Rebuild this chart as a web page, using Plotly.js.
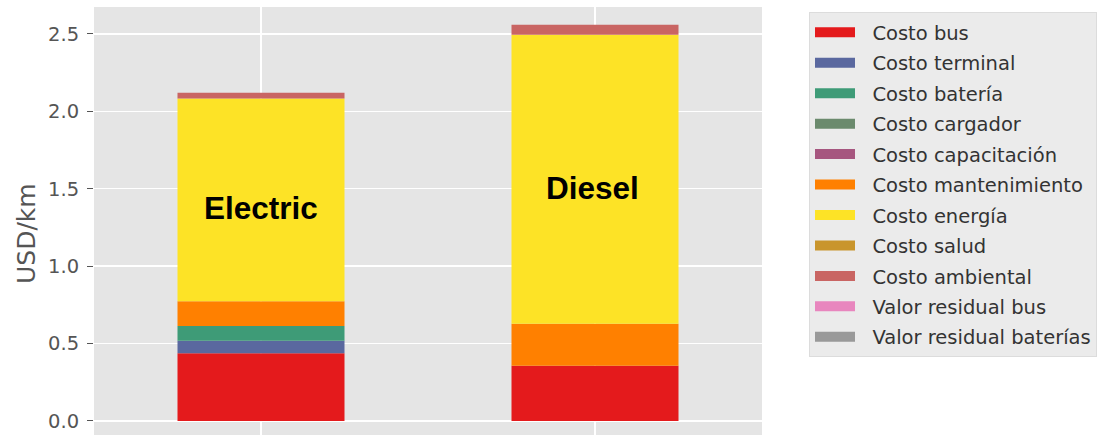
<!DOCTYPE html>
<html>
<head>
<meta charset="utf-8">
<script src="https://cdn.plot.ly/plotly-3.0.1.min.js"></script>
<style>html,body{margin:0;padding:0;background:#fff;}#chart{width:1097px;height:435px;}</style>
</head>
<body>
<div id="chart"></div>
<script>
const categories = ["Electric", "Diesel"];
const seriesNames = ["Costo bus", "Costo terminal", "Costo batería", "Costo cargador", "Costo capacitación",
  "Costo mantenimiento", "Costo energía", "Costo salud", "Costo ambiental", "Valor residual bus", "Valor residual baterías"];
const costoBus = [0.437, 0.357];
const costoTerminal = [0.081, 0];
const costoBateria = [0.095, 0];
const costoCargador = [0, 0];
const costoCapacitacion = [0, 0];
const costoMantenimiento = [0.160, 0.270];
const costoEnergia = [1.310, 1.867];
const costoSalud = [0, 0];
const costoAmbiental = [0.037, 0.065];
const valorResidualBus = [0, 0];
const valorResidualBaterias = [0, 0];
const seriesValues = [costoBus, costoTerminal, costoBateria, costoCargador, costoCapacitacion,
  costoMantenimiento, costoEnergia, costoSalud, costoAmbiental, valorResidualBus, valorResidualBaterias];
const seriesColors = ["#E41A1C", "#5A689F", "#3E9B77", "#6B8A6D", "#A6567F",
  "#FF8000", "#FDE326", "#C9952C", "#C96563", "#E886BE", "#999999"];

const barTraces = seriesNames.map((n, i) => ({
  type: "bar", name: n, x: [0, 1], y: seriesValues[i],
  marker: {color: seriesColors[i], line: {width: 0}},
  width: 0.5, showlegend: false, legendgroup: "g" + i
}));
// legend entries drawn as wide swatches (line legend symbols)
const legendTraces = seriesNames.map((n, i) => ({
  type: "scatter", mode: "lines", name: "\u00a0\u00a0" + n, x: [null], y: [null],
  line: {color: seriesColors[i], width: 14}, legendgroup: "g" + i, showlegend: true
}));

const layout = {
  width: 1097, height: 435,
  margin: {l: 94, r: 335, t: 7, b: 0},
  paper_bgcolor: "#ffffff", plot_bgcolor: "#e5e5e5",
  barmode: "relative",
  showlegend: true,
  font: {family: "DejaVu Sans, sans-serif"},
  xaxis: {
    range: [-0.5, 1.5], tickvals: [0, 1], ticktext: categories, showticklabels: false,
    showgrid: true, gridcolor: "#ffffff", gridwidth: 1.5, zeroline: false, ticks: ""
  },
  yaxis: {
    range: [-0.091, 2.674], tickvals: [0, 0.5, 1, 1.5, 2, 2.5],
    ticktext: ["0.0", "0.5", "1.0", "1.5", "2.0", "2.5"],
    showgrid: true, gridcolor: "#ffffff", gridwidth: 1.5, zeroline: false,
    ticks: "outside", ticklen: 6, tickcolor: "#555555", tickwidth: 1,
    ticklabelstandoff: 4,
    tickfont: {size: 19.5, color: "#555555"}
  },
  legend: {
    x: 1.0705, xanchor: "left", y: 0.988, yanchor: "top",
    bgcolor: "#ebebeb", bordercolor: "#dcdcdc", borderwidth: 1,
    font: {size: 19.5, color: "#333333"}, tracegroupgap: 2.1, traceorder: "grouped",
    itemwidth: 40
  },
  annotations: [
    {x: -0.1003, y: 0.472, xref: "paper", yref: "paper", text: "USD/km", textangle: -90,
     showarrow: false, xanchor: "center", yanchor: "middle",
     font: {size: 25, color: "#555555"}},
    {x: 0, y: 1.376, xref: "x", yref: "y", text: "<b>Electric</b>", showarrow: false,
     font: {family: "Liberation Sans, Arial, sans-serif", size: 31.5, color: "#000000"}},
    {x: 1, y: 1.505, xref: "x", yref: "y", text: "<b>Diesel</b>", showarrow: false,
     xshift: -3, font: {family: "Liberation Sans, Arial, sans-serif", size: 31.5, color: "#000000"}}
  ]
};

Plotly.newPlot("chart", barTraces.concat(legendTraces), layout, {displayModeBar: false, staticPlot: true});
</script>
</body>
</html>
